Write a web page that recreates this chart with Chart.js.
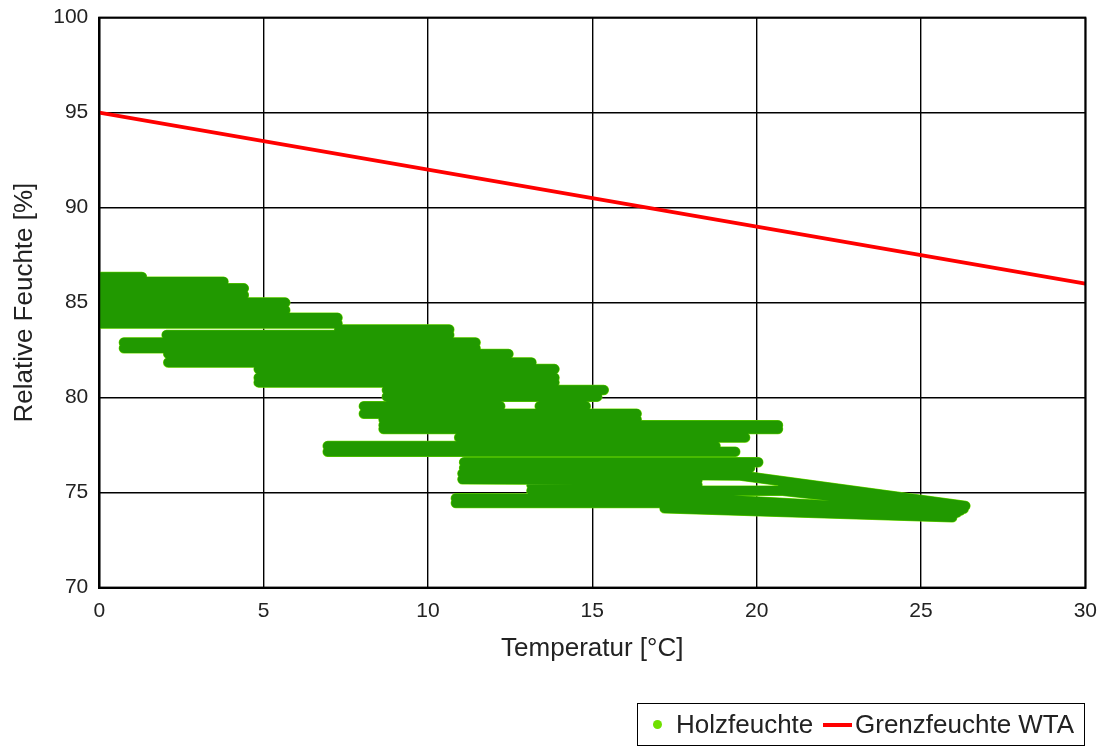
<!DOCTYPE html>
<html>
<head>
<meta charset="utf-8">
<script src="https://cdn.jsdelivr.net/npm/chart.js@4/dist/chart.umd.min.js"></script>
<style>
  body { margin: 0; background: #fff; overflow: hidden; }
  #wrap { position: relative; width: 1097px; height: 746px; overflow: hidden; }
  #chart { position: absolute; left: 0; top: -6px; }
  #legend {
    position: absolute; left: 637px; top: 703px; width: 446px; height: 41px;
    border: 1px solid #000; font-family: "Liberation Sans", Arial, sans-serif;
    font-size: 26px; color: #222; white-space: nowrap;
  }
  #legend span { position: absolute; }
  .dot { left: 15px; top: 16px; width: 9px; height: 9px; border-radius: 50%; background: #6fe000; }
  .line { left: 185px; top: 19px; width: 29px; height: 4px; background: #f00; }
</style>
</head>
<body>
<div id="wrap">
  <canvas id="chart" width="1108" height="752"></canvas>
  <div id="legend">
    <span class="dot"></span><span style="left:38px;top:5px">Holzfeuchte</span>
    <span class="line"></span><span style="left:217px;top:5px">Grenzfeuchte WTA</span>
  </div>
</div>
<script>
// Holzfeuchte: dense horizontal runs of measured points, read as run start / end
const bandX1 = [0, 0, 0, 0, 0, 0, 0, 0,
  7.3, 2.05, 0.75, 0.75, 2.1, 2.1, 4.85, 4.85, 4.85, 8.75, 8.75, 8.05, 13.4,
  8.05, 8.65, 8.65, 8.65, 10.95, 6.95, 6.95, 11.1, 11.1,
  11.05, 19.5, 11.05, 13.15, 13.15, 20.8, 20.8, 10.85, 10.85, 17.2, 17.2, 17.2];
const bandY1 = [86.35, 86.1, 85.75, 85.4, 85.0, 84.6, 84.2, 83.9,
  83.58, 83.3, 82.9, 82.6, 82.3, 81.85, 81.5, 81.05, 80.8, 80.4, 80.05, 79.55, 79.55,
  79.15, 78.85, 78.55, 78.35, 77.9, 77.45, 77.15, 76.6, 76.3,
  76.0, 75.9, 75.7, 75.4, 75.1, 75.1, 75.35, 74.7, 74.45, 74.8, 74.5, 74.17];
const bandX2 = [1.3, 3.78, 4.4, 4.4, 5.66, 5.66, 7.25, 7.25,
  10.65, 10.65, 11.45, 11.45, 12.45, 13.15, 13.85, 13.85, 13.85, 15.35, 15.15, 12.2, 14.8,
  16.35, 16.35, 20.65, 20.65, 19.65, 18.75, 19.35, 20.05, 19.8,
  19.5, 26.35, 18.2, 18.2, 20.8, 26.2, 26.3, 17.2, 17.2, 26.1, 26.0, 25.95];
const bandY2 = [86.35, 86.1, 85.75, 85.4, 85.0, 84.6, 84.2, 83.9,
  83.58, 83.3, 82.9, 82.6, 82.3, 81.85, 81.5, 81.05, 80.8, 80.4, 80.05, 79.55, 79.55,
  79.15, 78.85, 78.55, 78.35, 77.9, 77.45, 77.15, 76.6, 76.3,
  75.9, 74.3, 75.65, 75.4, 75.1, 74.05, 74.15, 74.65, 74.45, 73.95, 73.85, 73.7];

// Grenzfeuchte WTA
const limitTemp = [0, 30];
const limitHum = [95, 86];

const xTicks = [0, 5, 10, 15, 20, 25, 30];
const yTicks = [70, 75, 80, 85, 90, 95, 100];

const bandPoints = [];
bandX1.forEach((x, i) => {
    bandPoints.push({x: x, y: bandY1[i]});
    bandPoints.push({x: bandX2[i], y: bandY2[i]});
    bandPoints.push({x: bandX2[i], y: null});
});

const frame = {
    id: 'frame',
    afterDatasetsDraw(chart) {
        const a = chart.chartArea, c = chart.ctx;
        c.save();
        c.strokeStyle = '#000';
        c.lineWidth = 2;
        c.strokeRect(a.left, a.top, a.right - a.left, a.bottom - a.top);
        c.restore();
    }
};

const font = '"Liberation Sans", Arial, sans-serif';
Chart.defaults.font.family = font;
Chart.defaults.color = '#222';

// datasets are painted last-index first, so the dark fill comes first here
new Chart(document.getElementById('chart'), {
    type: 'scatter',
    data: {
        datasets: [{
            label: 'Holzfeuchte',
            data: bandPoints.slice(),
            showLine: true,
            spanGaps: false,
            borderColor: '#219900',
            borderWidth: 9.5,
            borderCapStyle: 'round',
            pointRadius: 0
        }, {
            label: 'Holzfeuchte',
            data: bandPoints.slice(),
            showLine: true,
            spanGaps: false,
            borderColor: '#70dc00',
            borderWidth: 10.5,
            borderCapStyle: 'round',
            pointRadius: 0
        }, {
            label: 'Grenzfeuchte WTA',
            data: limitTemp.map((t, i) => ({x: t, y: limitHum[i]})),
            showLine: true,
            borderColor: '#f00',
            borderWidth: 4,
            pointRadius: 0
        }]
    },
    options: {
        responsive: false,
        devicePixelRatio: 1,
        animation: false,
        layout: {padding: {left: 5, right: 0, top: 2, bottom: 78}},
        plugins: {legend: {display: false}, tooltip: {enabled: false}},
        scales: {
            x: {
                type: 'linear', min: 0, max: 30,
                afterBuildTicks: (s) => { s.ticks = xTicks.map(v => ({value: v})); },
                ticks: {font: {size: 21}, padding: 11, color: '#222'},
                grid: {color: '#000', lineWidth: 1.4, drawTicks: false},
                border: {color: '#000', width: 2},
                title: {display: true, text: 'Temperatur [°C]', font: {size: 26}, color: '#222', padding: {top: -2, bottom: 4}}
            },
            y: {
                type: 'linear', min: 70, max: 100,
                afterBuildTicks: (s) => { s.ticks = yTicks.map(v => ({value: v})); },
                ticks: {font: {size: 21}, padding: 11, color: '#222'},
                grid: {color: '#000', lineWidth: 1.4, drawTicks: false},
                border: {color: '#000', width: 2},
                title: {display: true, text: 'Relative Feuchte [%]', font: {size: 26}, color: '#222', padding: {top: 4, bottom: 2}}
            }
        }
    },
    plugins: [frame]
});
</script>
</body>
</html>
